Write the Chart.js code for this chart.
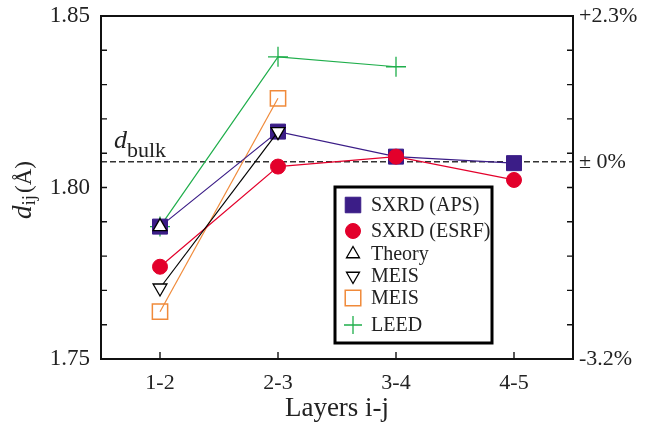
<!DOCTYPE html>
<html>
<head>
<meta charset="utf-8">
<script src="https://cdn.jsdelivr.net/npm/chart.js@4.4.1/dist/chart.umd.min.js"></script>
<style>
  html, body { margin: 0; padding: 0; background: #fff; }
  #wrap { width: 647px; height: 429px; }
</style>
</head>
<body>
<div id="wrap"><canvas id="chart"></canvas></div>
<script>
// interlayer spacings d_ij (Å)
const layers = ['1-2', '2-3', '3-4', '4-5'];
const sxrdAps = [1.7886, 1.8163, 1.8090, 1.8071];
const sxrdEsrf = [1.7769, 1.8061, 1.8090, 1.8022];
const theory = [1.7886, null, null, null];
const meisDown = [1.7707, 1.8163, null, null];
const meisSquare = [1.7638, 1.8260, null, null];
const leed = [1.7886, 1.8381, 1.8352, null];
const dBulk = 1.8075;
const leftLabels = [1.75, 1.80, 1.85];
const rightValues = [1.75, dBulk, 1.85];
const rightLabels = ['-3.2%', '± 0%', '+2.3%'];

const SERIF = '"Liberation Serif", "DejaVu Serif", serif';
const toPoints = arr => arr.map((v, i) => ({ x: i + 1, y: v })).filter(p => p.y !== null);

const datasets = [
    { label: 'SXRD (APS)', data: toPoints(sxrdAps), borderColor: '#3b1d87', backgroundColor: '#3b1d87',
      pointStyle: 'rect', pointRadius: 10.6, pointBorderWidth: 1, order: 4 },
    { label: 'SXRD (ESRF)', data: toPoints(sxrdEsrf), borderColor: '#e3002b', backgroundColor: '#e3002b',
      pointStyle: 'circle', pointRadius: 7.5, pointBorderWidth: 1, order: 3 },
    { label: 'Theory', data: toPoints(theory), borderColor: '#000', backgroundColor: '#fff',
      pointStyle: 'triangle', pointRadius: 8, pointBorderWidth: 1.3, showLine: false, order: 1 },
    { label: 'MEIS', data: toPoints(meisDown), borderColor: '#000', backgroundColor: '#fff',
      pointStyle: 'triangle', pointRotation: 180, pointRadius: 8, pointBorderWidth: 1.3, order: 2 },
    { label: 'MEIS', data: toPoints(meisSquare), borderColor: '#f08a3a', backgroundColor: 'rgba(0,0,0,0)',
      pointStyle: 'rect', pointRadius: 10.8, pointBorderWidth: 1.5, order: 5 },
    { label: 'LEED', data: toPoints(leed), borderColor: '#1fae4b', backgroundColor: '#1fae4b',
      pointStyle: 'cross', pointRadius: 10, pointBorderWidth: 1.3, order: 6 },
];
datasets.forEach(d => { d.borderWidth = 1.2; d.tension = 0; d.fill = false; });

function marker(ctx, ds, x, y, r) {
    ctx.save();
    ctx.strokeStyle = ds.borderColor;
    ctx.fillStyle = ds.backgroundColor;
    ctx.lineWidth = ds.pointBorderWidth;
    ctx.beginPath();
    if (ds.pointStyle === 'rect') {
        const s = Math.SQRT1_2 * r;
        ctx.rect(x - s, y - s, 2 * s, 2 * s);
    } else if (ds.pointStyle === 'circle') {
        ctx.arc(x, y, r, 0, Math.PI * 2);
    } else if (ds.pointStyle === 'triangle') {
        let a = (ds.pointRotation || 0) * Math.PI / 180;
        for (let k = 0; k < 3; k++) {
            const px = x + Math.sin(a) * r, py = y - Math.cos(a) * r;
            k ? ctx.lineTo(px, py) : ctx.moveTo(px, py);
            a += 2 * Math.PI / 3;
        }
        ctx.closePath();
    } else if (ds.pointStyle === 'cross') {
        ctx.moveTo(x - r, y); ctx.lineTo(x + r, y);
        ctx.moveTo(x, y - r); ctx.lineTo(x, y + r);
    }
    if (ds.pointStyle !== 'cross') ctx.fill();
    ctx.stroke();
    ctx.restore();
}

const noPad = s => { s.paddingTop = 0; s.paddingBottom = 0; s.paddingLeft = 0; s.paddingRight = 0; };

const decor = {
    id: 'decor',
    beforeDatasetsDraw(chart) {
        const { ctx, chartArea: a, scales: { y } } = chart;
        const yb = y.getPixelForValue(dBulk);
        ctx.save();
        ctx.strokeStyle = '#333';
        ctx.lineWidth = 1.5;
        ctx.setLineDash([6, 3]);
        ctx.beginPath();
        ctx.moveTo(a.left, yb);
        ctx.lineTo(a.right, yb);
        ctx.stroke();
        ctx.setLineDash([]);
        // d_bulk label
        ctx.fillStyle = '#222';
        ctx.textBaseline = 'alphabetic';
        ctx.font = 'italic 26px ' + SERIF;
        ctx.fillText('d', a.left + 13, yb - 14);
        ctx.font = '22px ' + SERIF;
        ctx.fillText('bulk', a.left + 26, yb - 5);
        ctx.restore();
    },
    afterDraw(chart) {
        const { ctx, chartArea: a, scales: { x, y } } = chart;
        ctx.save();
        // frame
        ctx.strokeStyle = '#111';
        ctx.lineWidth = 2;
        ctx.strokeRect(a.left, a.top, a.right - a.left, a.bottom - a.top);
        // inward tick marks
        ctx.lineWidth = 1.4;
        ctx.beginPath();
        y.ticks.forEach(t => {
            const py = y.getPixelForValue(t.value);
            ctx.moveTo(a.left, py); ctx.lineTo(a.left + 6, py);
            ctx.moveTo(a.right, py); ctx.lineTo(a.right - 6, py);
        });
        x.ticks.forEach(t => {
            const px = x.getPixelForValue(t.value);
            ctx.moveTo(px, a.bottom); ctx.lineTo(px, a.bottom - 7);
        });
        ctx.stroke();

        // x title
        ctx.fillStyle = '#222';
        ctx.font = '27px ' + SERIF;
        ctx.textAlign = 'center';
        ctx.textBaseline = 'alphabetic';
        ctx.fillText('Layers i-j', (a.left + a.right) / 2, 416);

        // y title: d_ij (Å)
        ctx.translate(31, 219);
        ctx.rotate(-Math.PI / 2);
        ctx.textAlign = 'left';
        let cx = 0;
        ctx.font = 'italic 27px ' + SERIF;
        ctx.fillText('d', cx, 0);
        cx += ctx.measureText('d').width;
        ctx.font = '19px ' + SERIF;
        ctx.fillText('ij', cx, 4);
        cx += ctx.measureText('ij').width + 2;
        ctx.font = '23px ' + SERIF;
        ctx.fillText('(Å)', cx, 0);
        ctx.restore();

        // legend box
        const lx = 335, ly = 187, lw = 157, lh = 156;
        ctx.save();
        ctx.fillStyle = '#fff';
        ctx.fillRect(lx, ly, lw, lh);
        ctx.strokeStyle = '#000';
        ctx.lineWidth = 3;
        ctx.strokeRect(lx, ly, lw, lh);
        const rows = [205, 231, 254, 276, 298, 325];
        const sizes = [11, 7.5, 7.5, 7.5, 11, 9];
        ctx.font = '20px ' + SERIF;
        ctx.textBaseline = 'middle';
        chart.data.datasets.forEach((ds, i) => {
            marker(ctx, ds, 353, rows[i], sizes[i]);
            ctx.fillStyle = '#222';
            ctx.fillText(ds.label, 371, rows[i] + 1);
        });
        ctx.restore();
    }
};

new Chart(document.getElementById('chart'), {
    type: 'line',
    data: { datasets },
    options: {
        responsive: true,
        maintainAspectRatio: false,
        animation: false,
        layout: { padding: { top: 16, left: 0, right: 0, bottom: 0 } },
        plugins: { legend: { display: false }, tooltip: { enabled: false } },
        scales: {
            x: {
                type: 'linear', min: 0.5, max: 4.5,
                afterBuildTicks: s => { s.ticks = layers.map((_, i) => ({ value: i + 1 })); },
                afterFit: s => { s.height = 70; noPad(s); },
                grid: { display: false, drawTicks: false },
                border: { display: false },
                ticks: {
                    padding: 11, color: '#222', font: { family: SERIF, size: 22 },
                    autoSkip: false, maxRotation: 0,
                    callback: v => layers[v - 1],
                },
            },
            y: {
                position: 'left', min: 1.75, max: 1.85,
                afterFit: s => { s.width = 101; noPad(s); },
                grid: { display: false, drawTicks: false },
                border: { display: false },
                ticks: {
                    stepSize: 0.01, padding: 11, autoSkip: false, color: '#222',
                    font: { family: SERIF, size: 23 },
                    callback: v => leftLabels.some(l => Math.abs(l - v) < 1e-6) ? v.toFixed(2) : '',
                },
            },
            y2: {
                position: 'right', min: 1.75, max: 1.85,
                afterBuildTicks: s => { s.ticks = rightValues.map(v => ({ value: v })); },
                afterFit: s => { s.width = 74; noPad(s); },
                grid: { display: false, drawTicks: false },
                border: { display: false },
                ticks: {
                    padding: 6, autoSkip: false, color: '#222',
                    font: { family: SERIF, size: 22 },
                    callback: (v, i) => rightLabels[i],
                },
            },
        },
    },
    plugins: [decor],
});
</script>
</body>
</html>
